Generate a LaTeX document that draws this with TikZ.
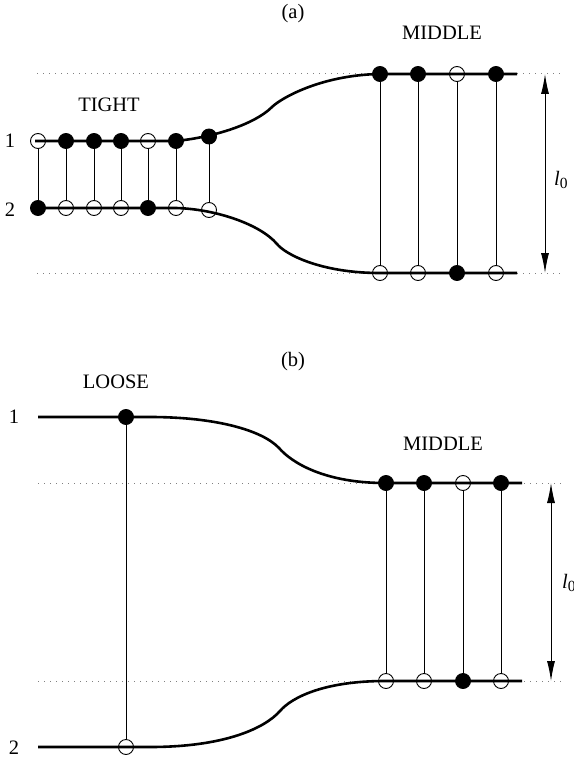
\documentclass[tikz,border=0pt]{standalone}
\usepackage{fontspec}
\setmainfont{Liberation Serif}
\usetikzlibrary{arrows.meta}
\begin{document}
\begin{tikzpicture}[x=1pt,y=-1pt,
  strand/.style={line width=2.6pt},
  guide/.style={gray, line width=1pt, dash pattern=on 1pt off 5pt},
  bead/.style={circle, draw, line width=0.9pt, minimum size=15pt, inner sep=0pt},
  fbead/.style={bead, fill=black},
  obead/.style={bead},
  rung/.style={line width=0.8pt},
  lbl/.style={font=\fontsize{20.5}{23}\selectfont, inner sep=0pt},
  dimarrow/.style={line width=1pt, {Latex[length=20pt,width=8pt]}-{Latex[length=20pt,width=8pt]}},
]
\useasboundingbox (0,0) rectangle (573,765);

% ---------------- panel (a) ----------------
\node[lbl] (tagA) at (293,14) {(a)};
\node[lbl] (midA) at (442,33) {MIDDLE};
\node[lbl] (tight) at (109,105) {TIGHT};
\node[lbl] (oneA) at (10,141) {1};
\node[lbl] (twoA) at (10,210) {2};
\node[lbl, anchor=west] (lA) at (554,180) {\itshape l\raisebox{-3pt}{\fontsize{15.5}{15.5}\selectfont\upshape 0}};

\draw[guide] (37,74) -- (562,74);
\draw[guide] (37,273) -- (562,273);

\draw[strand] (35,141) -- (176,141) .. controls (215,137) and (255,124) .. (272,107)
  .. controls (280,99) and (320,75) .. (380,74) -- (517,74);
\draw[strand] (38,208) -- (176,208) .. controls (215,209) and (260,224) .. (277,244)
  .. controls (285,254) and (320,273) .. (380,273) -- (517,273);

\coordinate (arA1) at (545,74);
\coordinate (arA2) at (545,273);
\draw[dimarrow] (arA1) -- (arA2);

% tight beads
\node[obead] (at1) at (38,141) {};
\node[fbead] (at2) at (66,141) {};
\node[fbead] (at3) at (94,141) {};
\node[fbead] (at4) at (121,141) {};
\node[obead] (at5) at (148,141) {};
\node[fbead] (at6) at (176,141) {};
\node[fbead] (at7) at (209,136.5) {};
\node[fbead] (ab1) at (38,208) {};
\node[obead] (ab2) at (66,208) {};
\node[obead] (ab3) at (94,208) {};
\node[obead] (ab4) at (121,208) {};
\node[fbead] (ab5) at (148,208) {};
\node[obead] (ab6) at (176,208) {};
\node[obead] (ab7) at (209,210) {};
\foreach \i in {1,...,7} \draw[rung] (at\i) -- (ab\i);

% middle beads (a)
\node[fbead] (amt1) at (380,74) {};
\node[fbead] (amt2) at (418,74) {};
\node[obead] (amt3) at (457,74) {};
\node[fbead] (amt4) at (496,74) {};
\node[obead] (amb1) at (380,273) {};
\node[obead] (amb2) at (418,273) {};
\node[fbead] (amb3) at (457,273) {};
\node[obead] (amb4) at (496,273) {};
\foreach \i in {1,...,4} \draw[rung] (amt\i) -- (amb\i);

% ---------------- panel (b) ----------------
\node[lbl] (tagB) at (293,362) {(b)};
\node[lbl] (loose) at (116,382) {LOOSE};
\node[lbl] (midB) at (443,444) {MIDDLE};
\node[lbl] (oneB) at (14,417) {1};
\node[lbl] (twoB) at (14,748) {2};
\node[lbl, anchor=west] (lB) at (562,583) {\itshape l\raisebox{-3pt}{\fontsize{15.5}{15.5}\selectfont\upshape 0}};

\draw[guide] (38,483) -- (564,483);
\draw[guide] (38,681) -- (564,681);

\draw[strand] (38,417) -- (150,417) .. controls (215,417) and (262,430) .. (279,448)
  .. controls (292,463) and (325,483) .. (385,483) -- (522,483);
\draw[strand] (38,747) -- (150,747) .. controls (225,747) and (265,728) .. (280,711)
  .. controls (292,697) and (325,681) .. (385,681) -- (522,681);

\coordinate (arB1) at (551,483);
\coordinate (arB2) at (551,681);
\draw[dimarrow] (arB1) -- (arB2);

\node[fbead] (lt) at (126,417) {};
\node[obead] (lb) at (126,747) {};
\draw[rung] (lt) -- (lb);

\node[fbead] (bmt1) at (386,483) {};
\node[fbead] (bmt2) at (424,483) {};
\node[obead] (bmt3) at (463,483) {};
\node[fbead] (bmt4) at (501,483) {};
\node[obead] (bmb1) at (386,681) {};
\node[obead] (bmb2) at (424,681) {};
\node[fbead] (bmb3) at (463,681) {};
\node[obead] (bmb4) at (501,681) {};
\foreach \i in {1,...,4} \draw[rung] (bmt\i) -- (bmb\i);
\end{tikzpicture}
\end{document}
